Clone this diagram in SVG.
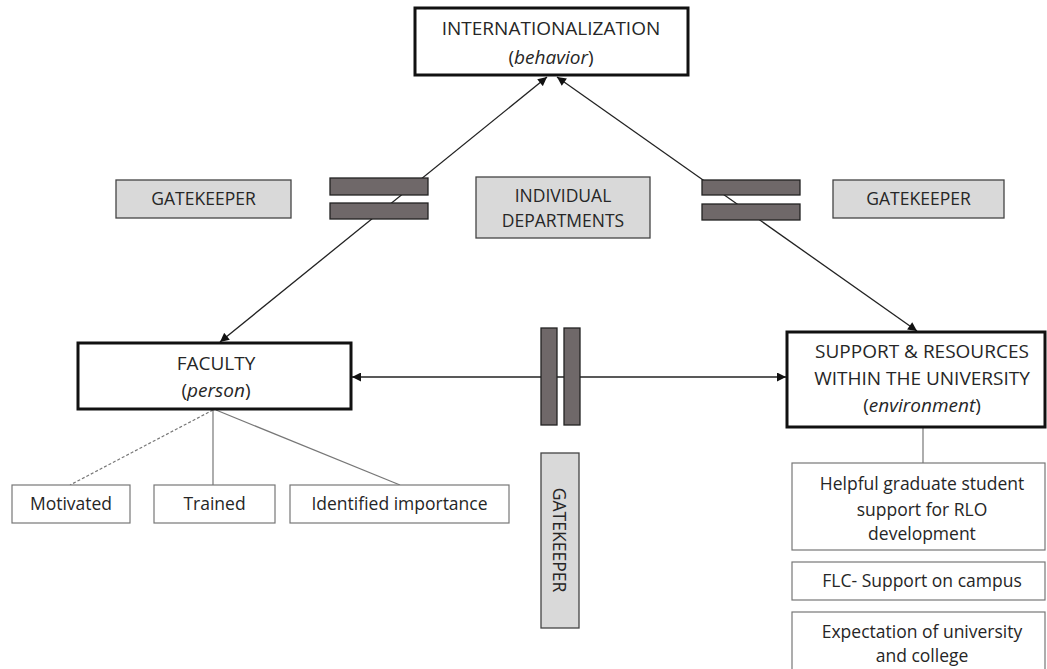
<svg xmlns="http://www.w3.org/2000/svg" width="1047" height="669" viewBox="0 0 1047 669">
<defs>
<marker id="ah" viewBox="0 0 10 10" refX="10" refY="5" markerWidth="10" markerHeight="9" markerUnits="userSpaceOnUse" orient="auto-start-reverse">
<path d="M0,0 L10,5 L0,10 Z" fill="#111"/>
</marker>
<style>
.t{font-family:"Open Sans","Liberation Sans",sans-serif;fill:#262626;text-anchor:middle}
.m{font-size:19px}
.s{font-size:17.5px}
.main{fill:#fff;stroke:#111;stroke-width:3}
.gk{fill:#d9d9d9;stroke:#444;stroke-width:1.3}
.bar{fill:#6f6869;stroke:#222;stroke-width:1.3}
.sub{fill:#fff;stroke:#777;stroke-width:1.2}
.conn{stroke:#222;stroke-width:1.3;fill:none}
.br{stroke:#777;stroke-width:1.2;fill:none}
</style>
</defs>
<rect width="1047" height="669" fill="#fff"/>
<g id="connectors">
<line class="conn" x1="220" y1="342" x2="547" y2="77" marker-start="url(#ah)" marker-end="url(#ah)"/>
<line class="conn" x1="917" y1="331" x2="557" y2="77" marker-start="url(#ah)" marker-end="url(#ah)"/>
<line class="conn" x1="352" y1="377" x2="786" y2="377" marker-start="url(#ah)" marker-end="url(#ah)"/>
<line class="br" x1="213" y1="410" x2="70" y2="485" stroke-dasharray="3,2"/>
<line class="br" x1="213" y1="410" x2="213" y2="485"/>
<line class="br" x1="216" y1="410" x2="400" y2="485"/>
<line class="br" x1="923" y1="428" x2="923" y2="463"/>
</g>
<g id="bars-left">
<rect class="bar" x="330" y="178" width="98" height="17"/>
<rect class="bar" x="330" y="203" width="98" height="16"/>
</g>
<g id="bars-right">
<rect class="bar" x="702" y="180" width="98" height="15"/>
<rect class="bar" x="702" y="204" width="98" height="16"/>
</g>
<g id="bars-middle">
<rect class="bar" x="541" y="328" width="16" height="97"/>
<rect class="bar" x="564" y="328" width="16" height="97"/>
</g>
<g id="internationalization">
<rect class="main" x="415" y="8" width="273" height="67"/>
<text class="t m" x="551" y="35">INTERNATIONALIZATION</text>
<text class="t m" x="551" y="64">(<tspan font-style="italic">behavior</tspan>)</text>
</g>
<g id="gatekeeper-left">
<rect class="gk" x="116" y="180" width="175" height="38"/>
<text class="t s" x="203.5" y="205">GATEKEEPER</text>
</g>
<g id="individual-departments">
<rect class="gk" x="476" y="177" width="174" height="61"/>
<text class="t s" x="563" y="202">INDIVIDUAL</text>
<text class="t s" x="563" y="227">DEPARTMENTS</text>
</g>
<g id="gatekeeper-right">
<rect class="gk" x="833" y="180" width="171" height="38"/>
<text class="t s" x="918.5" y="205">GATEKEEPER</text>
</g>
<g id="faculty">
<rect class="main" x="78" y="343" width="273" height="66"/>
<text class="t m" x="216" y="370">FACULTY</text>
<text class="t m" x="216" y="397">(<tspan font-style="italic">person</tspan>)</text>
</g>
<g id="support">
<rect class="main" x="787" y="332" width="258" height="95"/>
<text class="t m" x="922" y="358">SUPPORT &amp; RESOURCES</text>
<text class="t m" x="922" y="385">WITHIN THE UNIVERSITY</text>
<text class="t m" x="922" y="412">(<tspan font-style="italic">environment</tspan>)</text>
</g>
<g id="motivated">
<rect class="sub" x="12" y="485" width="118" height="38"/>
<text class="t s" x="71" y="510">Motivated</text>
</g>
<g id="trained">
<rect class="sub" x="154" y="485" width="121" height="38"/>
<text class="t s" x="214.5" y="510">Trained</text>
</g>
<g id="identified">
<rect class="sub" x="290" y="485" width="219" height="38"/>
<text class="t s" x="399.5" y="510">Identified importance</text>
</g>
<g id="gatekeeper-bottom">
<rect class="gk" x="541" y="453" width="38" height="175"/>
<text class="t s" transform="translate(553,540) rotate(90)">GATEKEEPER</text>
</g>
<g id="helpful">
<rect class="sub" x="792" y="463" width="253" height="87"/>
<text class="t s" x="922" y="490">Helpful graduate student</text>
<text class="t s" x="922" y="516">support for RLO</text>
<text class="t s" x="922" y="540">development</text>
</g>
<g id="flc">
<rect class="sub" x="792" y="562" width="253" height="38"/>
<text class="t s" x="922" y="587">FLC- Support on campus</text>
</g>
<g id="expectation">
<rect class="sub" x="792" y="612" width="253" height="62"/>
<text class="t s" x="922" y="638">Expectation of university</text>
<text class="t s" x="922" y="662">and college</text>
</g>
</svg>
